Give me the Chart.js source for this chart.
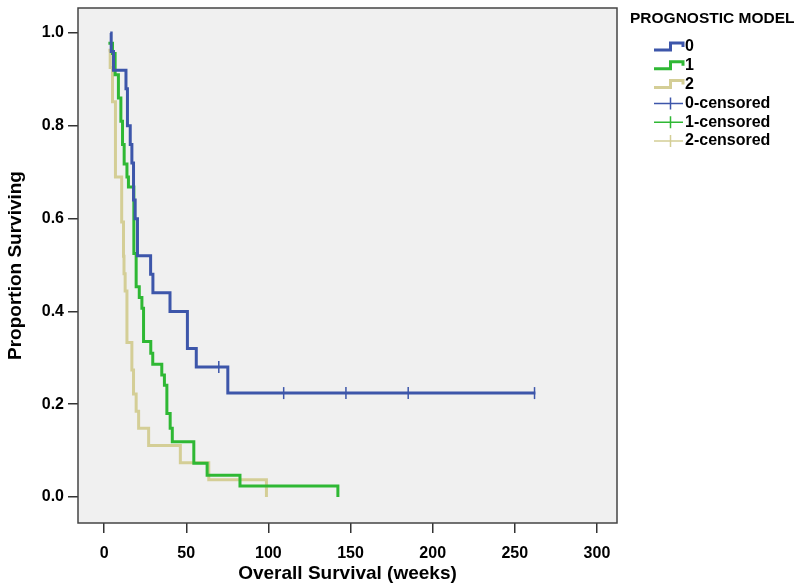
<!DOCTYPE html>
<html><head><meta charset="utf-8">
<script src="https://cdn.jsdelivr.net/npm/chart.js@4.4.0/dist/chart.umd.min.js"></script>
<style>html,body{margin:0;padding:0;background:#fff;}#wrap{width:800px;height:587px;position:relative}</style>
</head><body><div id="wrap"><canvas id="c" width="800" height="587"></canvas></div>
<script>
// ---- data ----
const xTickValues = [0, 50, 100, 150, 200, 250, 300];
const yTickValues = [0, 0.2, 0.4, 0.6, 0.8, 1.0];
const legendTitle = 'PROGNOSTIC MODEL';
const groupLabels = ['0', '1', '2'];
const censorLabels = ['0-censored', '1-censored', '2-censored'];

const model0Time = [3.7, 4.3, 5.7, 13.3, 14.2, 15.9, 16.9, 17.9, 18.9, 20.3, 28.3, 29.7, 40.1, 50.7, 56.1, 75.3, 262.5];
const model0Surv = [1.0, 0.96, 0.92, 0.88, 0.80, 0.76, 0.72, 0.64, 0.60, 0.52, 0.48, 0.44, 0.40, 0.32, 0.28, 0.224, 0.224];
const model0CensorTime = [69.8, 109.3, 147.2, 185.1, 262];
const model0CensorSurv = [0.28, 0.224, 0.224, 0.224, 0.224];

const model1Time = [2.6, 5.1, 6.7, 8.7, 10.2, 11.2, 12.2, 13.9, 14.8, 18.1, 19.5, 21.4, 23.0, 24.0, 28.4, 29.6, 35.1, 36.7, 38.2, 40.2, 41.5, 54.6, 62.7, 82.7, 142.3];
const model1Surv = [0.978, 0.956, 0.91, 0.86, 0.81, 0.76, 0.718, 0.69, 0.668, 0.525, 0.453, 0.43, 0.407, 0.335, 0.31, 0.286, 0.263, 0.241, 0.18, 0.148, 0.119, 0.073, 0.047, 0.024, 0.0];
const model1CensorTime = [];
const model1CensorSurv = [];

const model2Time = [2.6, 3.7, 5.1, 6.9, 10.7, 11.8, 12.1, 12.8, 13.9, 16.9, 17.9, 19.5, 21.0, 27.1, 46.4, 63.7, 98.8];
const model2Surv = [0.963, 0.926, 0.852, 0.69, 0.593, 0.519, 0.481, 0.444, 0.333, 0.274, 0.222, 0.185, 0.148, 0.111, 0.074, 0.037, 0.0];
const model2CensorTime = [];
const model2CensorSurv = [];

// ---- styling ----
const colors = ['#3d56aa', '#2fb834', '#d4ce96'];
const FONT = "'Liberation Sans', Arial, sans-serif";

const pts = (t, s) => t.map((v, i) => ({x: v, y: s[i]}));

function curve(label, t, s, c) {
  return {label, data: pts(t, s), borderColor: c, backgroundColor: c, borderWidth: 3,
    stepped: true, pointRadius: 0, pointHoverRadius: 0, fill: false, tension: 0,
    borderCapStyle: 'butt', borderJoinStyle: 'miter'};
}
function censor(label, t, s, c) {
  return {label, data: pts(t, s), showLine: false, borderColor: c, backgroundColor: c,
    pointStyle: 'line', rotation: 90, pointRadius: 6, pointHoverRadius: 6, pointBorderWidth: 1.5, borderWidth: 1.5};
}

const bgPlugin = {
  id: 'bgFrame',
  beforeDraw(chart) {
    const {ctx, chartArea: a} = chart;
    ctx.save();
    ctx.fillStyle = '#f0f0f0';
    ctx.fillRect(a.left, a.top, a.right - a.left, a.bottom - a.top);
    ctx.restore();
  },
  afterDraw(chart) {
    const {ctx, chartArea: a} = chart;
    ctx.save();
    ctx.strokeStyle = '#444';
    ctx.lineWidth = 1.5;
    ctx.strokeRect(a.left, a.top, a.right - a.left, a.bottom - a.top);

    // legend
    const x0 = 654, x1 = 683, xm = 670.5, tx = 685;
    ctx.fillStyle = '#000';
    ctx.textBaseline = 'middle';
    ctx.textAlign = 'left';
    ctx.font = 'bold 15.5px ' + FONT;
    ctx.fillText(legendTitle, 630, 19);
    ctx.font = 'bold 16px ' + FONT;
    const rowY = i => 47 + i * 18.8;
    groupLabels.forEach((lab, i) => {
      const y = rowY(i);
      ctx.strokeStyle = colors[i];
      ctx.lineWidth = 3;
      ctx.lineJoin = 'miter';
      ctx.beginPath();
      ctx.moveTo(x0, y + 3);
      ctx.lineTo(xm, y + 3);
      ctx.lineTo(xm, y - 4);
      ctx.lineTo(x1, y - 4);
      ctx.lineTo(x1, y);
      ctx.stroke();
      ctx.fillText(lab, tx, y);
    });
    censorLabels.forEach((lab, i) => {
      const y = rowY(i + 3);
      ctx.strokeStyle = colors[i];
      ctx.lineWidth = 1.5;
      ctx.beginPath();
      ctx.moveTo(x0, y); ctx.lineTo(x1, y);
      ctx.moveTo(xm, y - 6); ctx.lineTo(xm, y + 6);
      ctx.stroke();
      ctx.fillText(lab, tx, y);
    });
    ctx.restore();
  }
};

new Chart(document.getElementById('c'), {
  type: 'line',
  data: {
    datasets: [
      censor(censorLabels[0], model0CensorTime, model0CensorSurv, colors[0]),
      censor(censorLabels[1], model1CensorTime, model1CensorSurv, colors[1]),
      censor(censorLabels[2], model2CensorTime, model2CensorSurv, colors[2]),
      curve(groupLabels[0], model0Time, model0Surv, colors[0]),
      curve(groupLabels[1], model1Time, model1Surv, colors[1]),
      curve(groupLabels[2], model2Time, model2Surv, colors[2])
    ]
  },
  options: {
    responsive: false,
    animation: false,
    events: [],
    layout: {padding: {left: 0, top: 8, right: 183, bottom: 0}},
    plugins: {legend: {display: false}, tooltip: {enabled: false}, title: {display: false}},
    scales: {
      x: {
        type: 'linear', min: -15.9, max: 312.2,
        afterBuildTicks: s => { s.ticks = xTickValues.map(v => ({value: v})); },
        afterFit: s => { s.height = 64; s.paddingLeft = 0; s.paddingRight = 0; },
        ticks: {font: {family: FONT, size: 16, weight: 'bold'}, color: '#000', padding: 11, autoSkip: false, maxRotation: 0,
          callback: v => String(v)},
        grid: {drawOnChartArea: false, drawTicks: true, tickLength: 10, color: '#333', lineWidth: 1.5},
        border: {display: false},
        title: {display: true, text: 'Overall Survival (weeks)', color: '#000',
          font: {family: FONT, size: 19, weight: 'bold'}, padding: {top: 0, bottom: 2}}
      },
      y: {
        type: 'linear', min: -0.056, max: 1.054,
        afterBuildTicks: s => { s.ticks = yTickValues.map(v => ({value: v})); },
        afterFit: s => { s.width = 78; s.paddingTop = 0; s.paddingBottom = 0; },
        ticks: {font: {family: FONT, size: 16, weight: 'bold'}, color: '#000', padding: 4, autoSkip: false,
          callback: v => Number(v).toFixed(1)},
        grid: {drawOnChartArea: false, drawTicks: true, tickLength: 10, color: '#333', lineWidth: 1.5},
        border: {display: false},
        title: {display: true, text: 'Proportion Surviving', color: '#000',
          font: {family: FONT, size: 19, weight: 'bold'}, padding: {top: 4, bottom: 0}}
      }
    }
  },
  plugins: [bgPlugin]
});
</script></body></html>
